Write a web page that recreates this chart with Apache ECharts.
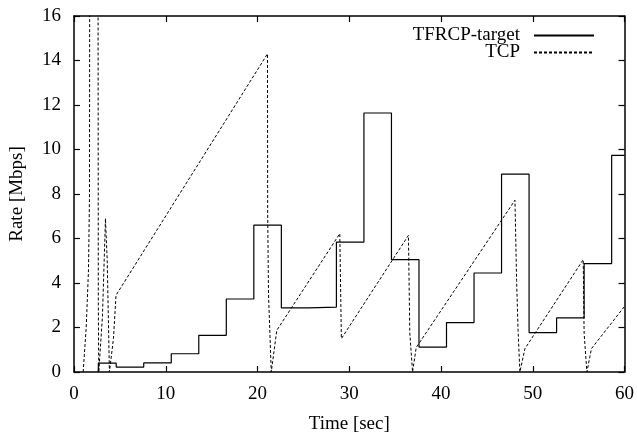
<!DOCTYPE html>
<html>
<head>
<meta charset="utf-8">
<script src="https://cdn.jsdelivr.net/npm/echarts@6/dist/echarts.min.js"></script>
<style>
  html, body { margin: 0; padding: 0; background: #fff; }
  #chart { width: 637px; height: 441px; background: #fff; }
</style>
</head>
<body>
<div id="chart"></div>
<script>
// TFRCP target rate: each level holds from its start time until the next one
const tfrcpTimes = [2.64, 2.66, 4.6, 7.6, 10.6, 13.6, 16.6, 19.6, 22.6, 25.6, 28.6, 31.6, 34.6, 37.6, 40.6, 43.6, 46.6, 49.6, 52.6, 55.6, 58.6, 60];
const tfrcpRates = [0, 0.4, 0.22, 0.41, 0.82, 1.65, 3.28, 6.6, 2.88, 2.92, 5.84, 11.64, 5.05, 1.12, 2.22, 4.45, 8.89, 1.77, 2.43, 4.87, 9.74, 9.74];

// TCP rate samples (time in sec, rate in Mbps)
const tcpTimes = [1.0, 1.33, 1.58, 1.69, 1.71, 2.62, 2.65, 2.7, 2.85, 3.1, 3.43, 3.58, 3.62, 3.86, 4.05, 4.3, 4.58,
  21.09, 21.11, 21.2, 21.5, 22.1, 28.97, 29.14, 36.45, 36.6, 36.9, 37.3, 48.06, 48.24, 48.4, 48.6, 49.15,
  55.5, 55.6, 55.9, 56.4, 59.95];
const tcpRates = [0, 2.0, 4.6, 8.0, 18, 18, 3.0, 0, 0, 2.5, 6.9, 6.94, 5.0, 0, 0, 1.5, 3.45,
  14.3, 7.1, 3.5, 0, 1.87, 6.22, 1.5, 6.14, 1.75, 0, 1.1, 7.72, 4.12, 1.87, 0, 1.05,
  5.05, 1.73, 0, 1.05, 2.92];

// axis ticks
const xTicks = [0, 10, 20, 30, 40, 50, 60];
const yTicks = [0, 2, 4, 6, 8, 10, 12, 14, 16];

const seriesNames = ['TFRCP-target', 'TCP'];

const FONT = "'Liberation Serif', 'DejaVu Serif', serif";
const zip = (a, b) => a.map((v, i) => [v, b[i]]);

// frame axes: black line, short ticks pointing into the plot, no grid lines
function frameAxis(extra) {
  return Object.assign({
    type: 'value',
    axisLine: { show: true, onZero: false, lineStyle: { color: '#000', width: 1.5 } },
    axisTick: { show: true, inside: true, length: 6, lineStyle: { color: '#000', width: 1.2 } },
    splitLine: { show: false }
  }, extra);
}

// one legend block per series so both line samples stay right-aligned
function legendItem(name, top) {
  return {
    data: [name], right: 37, top: top, orient: 'vertical', align: 'right',
    itemWidth: 60, itemHeight: 14, selectedMode: false,
    itemStyle: { opacity: 0 },
    textStyle: { fontFamily: FONT, fontSize: 19, color: '#000', padding: [0, 9, 0, 0] }
  };
}

const chart = echarts.init(document.getElementById('chart'));
chart.setOption({
  animation: false,
  grid: { left: 74, right: 10, top: 16, bottom: 69 },
  legend: [legendItem(seriesNames[0], 21), legendItem(seriesNames[1], 38)],
  xAxis: [
    frameAxis({
      position: 'bottom', min: xTicks[0], max: xTicks[xTicks.length - 1], interval: 10,
      name: 'Time [sec]', nameLocation: 'middle', nameGap: 43,
      nameTextStyle: { fontFamily: FONT, fontSize: 19, color: '#000' },
      axisLabel: { fontFamily: FONT, fontSize: 19, color: '#000', margin: 13 }
    }),
    frameAxis({
      position: 'top', min: xTicks[0], max: xTicks[xTicks.length - 1], interval: 10,
      axisLabel: { show: false }
    })
  ],
  yAxis: [
    frameAxis({
      position: 'left', min: yTicks[0], max: yTicks[yTicks.length - 1], interval: 2,
      name: 'Rate [Mbps]', nameLocation: 'middle', nameGap: 47,
      nameTextStyle: { fontFamily: FONT, fontSize: 19, color: '#000' },
      axisLabel: { fontFamily: FONT, fontSize: 19, color: '#000', margin: 13 }
    }),
    frameAxis({
      position: 'right', min: yTicks[0], max: yTicks[yTicks.length - 1], interval: 2,
      axisLabel: { show: false }
    })
  ],
  series: [
    {
      name: seriesNames[0], type: 'line', step: 'end', symbol: 'none',
      data: zip(tfrcpTimes, tfrcpRates),
      lineStyle: { color: '#000', width: 1.2, type: 'solid' },
      itemStyle: { color: '#000' }
    },
    {
      name: seriesNames[1], type: 'line', symbol: 'none', clip: true,
      data: zip(tcpTimes, tcpRates),
      lineStyle: { color: '#000', width: 1, type: [3, 2] },
      itemStyle: { color: '#000' }
    },
    {
      // binds the mirrored top/right frame axes
      type: 'line', xAxisIndex: 1, yAxisIndex: 1, data: []
    }
  ]
});
</script>
</body>
</html>
